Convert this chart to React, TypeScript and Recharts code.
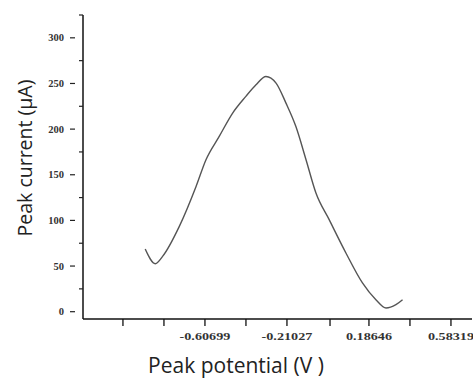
import React from 'react';
import { LineChart, Line, XAxis, YAxis } from 'recharts';

// peak potential (V) / peak current (µA)
const potential = [-0.896, -0.847, -0.812, -0.731, -0.65, -0.602, -0.538, -0.473, -0.409, -0.36, -0.312, -0.263, -0.215, -0.167, -0.118, -0.07, -0.006, 0.075, 0.155, 0.22, 0.269, 0.317, 0.349];
const current = [68.7, 52.6, 60.6, 93.5, 137.2, 166.5, 192, 217.6, 235.9, 248.6, 257.7, 250.4, 228.5, 202.8, 166.5, 130, 100.8, 64.3, 31.5, 13.1, 4, 7.7, 13.1];

const xTicks = [-1.00372, -0.80535, -0.60699, -0.40863, -0.21027, -0.0019, 0.18646, 0.38482, 0.58319];
const xLabels = ['-0.60699', '-0.21027', '0.18646', '0.58319'];
const yTicks = [0, 25, 50, 75, 100, 125, 150, 175, 200, 225, 250, 275, 300, 325];
const yLabels = [0, 50, 100, 150, 200, 250, 300];

const data = potential.map((p, i) => ({ p, c: current[i] }));

const XTick = (props: any) => {
  const { x, y, payload } = props;
  const lbl = xLabels.find((l) => Math.abs(parseFloat(l) - Number(payload.value)) < 1e-4);
  return (
    <g>
      <line x1={x} x2={x} y1={y} y2={y + 7} stroke="#111" strokeWidth={1.3} />
      {lbl && (
        <text
          transform={`translate(${x},${y + 21}) scale(1.35,1)`}
          textAnchor="middle"
          fontFamily="Liberation Serif"
          fontWeight="bold"
          fontSize={10.5}
          fill="#333"
        >
          {lbl}
        </text>
      )}
    </g>
  );
};

const YTick = (props: any) => {
  const { x, y, payload } = props;
  const v = Number(payload.value);
  const major = yLabels.includes(v);
  return (
    <g>
      {major ? (
        <line x1={x - 13} x2={x - 8} y1={y} y2={y} stroke="#222" strokeWidth={1.2} />
      ) : (
        <line x1={x - 4} x2={x} y1={y} y2={y} stroke="#222" strokeWidth={1.2} />
      )}
      {major && (
        <text x={x - 19} y={y + 3.5} textAnchor="end" fontFamily="Liberation Serif" fontWeight="bold" fontSize={10.5} fill="#333">
          {String(v)}
        </text>
      )}
    </g>
  );
};

export default function App() {
  return (
    <div style={{ position: 'absolute', left: 0, top: 0, width: 473, height: 378, background: '#fff' }}>
      <LineChart width={473} height={378} data={data} margin={{ top: 15, right: 1, bottom: 0, left: 0 }}>
        <XAxis
          type="number"
          dataKey="p"
          height={59}
          domain={[-1.197, 0.685]}
          ticks={xTicks}
          interval={0}
          tick={<XTick />}
          tickLine={false}
          tickSize={0}
          tickMargin={0}
          axisLine={{ stroke: '#111', strokeWidth: 1.5 }}
          allowDataOverflow
        />
        <YAxis
          type="number"
          dataKey="c"
          width={83}
          domain={[-8, 325]}
          ticks={yTicks}
          interval={0}
          tick={<YTick />}
          tickLine={false}
          tickSize={0}
          tickMargin={0}
          axisLine={{ stroke: '#111', strokeWidth: 1.5 }}
          allowDataOverflow
        />
        <Line type="monotone" dataKey="c" stroke="#555" strokeWidth={1.4} dot={false} isAnimationActive={false} />
      </LineChart>
      <div
        style={{
          position: 'absolute',
          left: 24,
          top: 158,
          transform: 'translate(-50%, -50%) rotate(-90deg)',
          whiteSpace: 'nowrap',
          fontFamily: 'Open Sans',
          fontSize: 19.5,
          color: '#222',
        }}
      >
        Peak current (µA)
      </div>
      <div
        style={{
          position: 'absolute',
          left: 236,
          top: 365,
          transform: 'translate(-50%, -50%)',
          whiteSpace: 'nowrap',
          fontFamily: 'Open Sans',
          fontSize: 21,
          color: '#222',
        }}
      >
        Peak potential (V )
      </div>
    </div>
  );
}
